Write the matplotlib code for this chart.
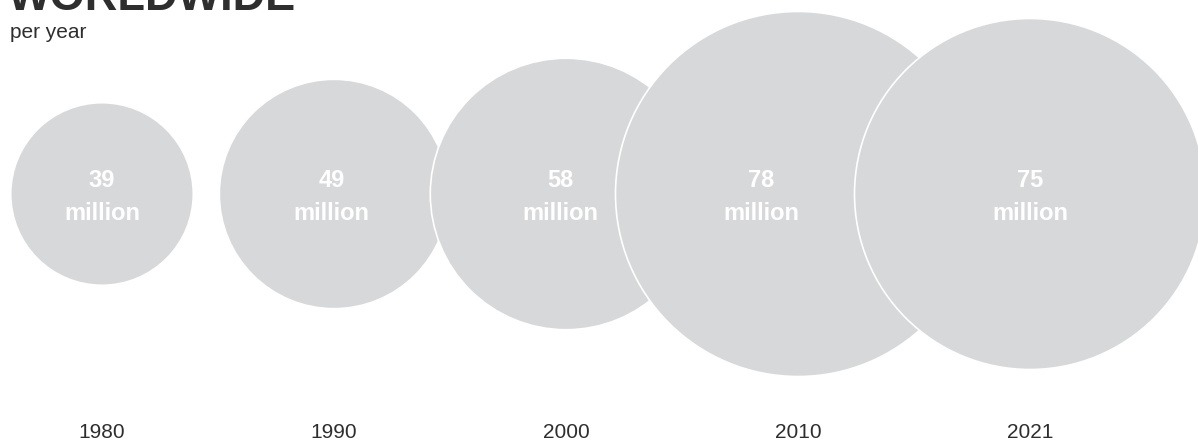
import matplotlib
matplotlib.use("Agg")
import matplotlib.pyplot as plt
from matplotlib.patches import Circle

# ---- data ----
years = ["1980", "1990", "2000", "2010", "2021"]
values = [39, 49, 58, 78, 75]          # million per year
value_labels = ["39", "49", "58", "78", "75"]
title = "WORLDWIDE"
subtitle = "per year"

# ---- style ----
W, H, DPI = 1198, 442, 100
SPACING_PX = 232.0          # px between centres
FIRST_PX = 102.0            # px of first centre
CENTER_Y_PX = 194.0         # px from top of circle centres
RADIUS_PER_UNIT = 2.34 / SPACING_PX   # data units of radius per million
circle_color = "#d7d8da"
text_color = "#2e2e2e"
label_dx = [0.0, -0.01, -0.026, -0.16, 0.0]   # label nudges (data units)

fig = plt.figure(figsize=(W / DPI, H / DPI), dpi=DPI)
ax = fig.add_axes([0, 0, 1, 1])
ax.set_xlim(-FIRST_PX / SPACING_PX, (W - FIRST_PX) / SPACING_PX)
ax.set_ylim(-(H - CENTER_Y_PX) / SPACING_PX, CENTER_Y_PX / SPACING_PX)
ax.set_aspect("equal", adjustable="box")
ax.axis("off")

font = ["Liberation Sans", "DejaVu Sans"]

for i, (yr, v, lab) in enumerate(zip(years, values, value_labels)):
    r = v * RADIUS_PER_UNIT
    ax.add_patch(Circle((i, 0), r, facecolor=circle_color, edgecolor="white",
                        linewidth=1.2, zorder=2 + i))
    ax.text(i + label_dx[i], 7 / SPACING_PX, lab, ha="center", va="baseline",
            color="white", fontsize=17, fontweight="bold", family=font, zorder=20)
    ax.text(i + label_dx[i], -26 / SPACING_PX, "million", ha="center", va="baseline",
            color="white", fontsize=17, fontweight="bold", family=font, zorder=20)
    ax.text(i, -(438 - CENTER_Y_PX) / SPACING_PX, yr, ha="center", va="baseline",
            color=text_color, fontsize=15, family=font, zorder=20)

fig.text(8 / W, 1 - 10 / H, title, ha="left", va="baseline", fontsize=32.5,
         fontweight="bold", color=text_color, family=font)
fig.text(10 / W, 1 - 38 / H, subtitle, ha="left", va="baseline", fontsize=15,
         color=text_color, family=font)

fig.savefig("out.png", dpi=DPI, facecolor="white")
